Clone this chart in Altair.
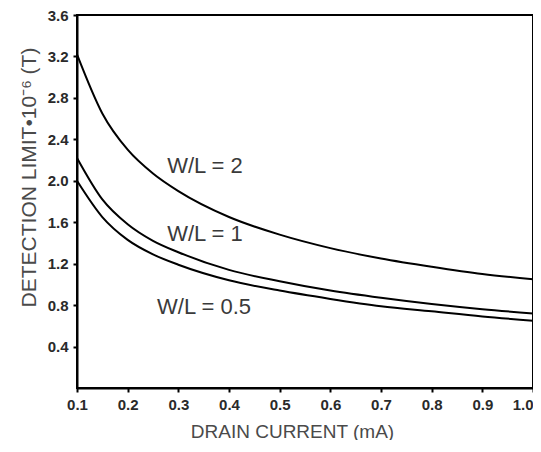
import altair as alt
import pandas as pd

current = [0.1, 0.15, 0.2, 0.25, 0.3, 0.4, 0.5, 0.6, 0.7, 0.8, 0.9, 1.0]
wl2 = [3.22, 2.65, 2.30, 2.07, 1.90, 1.65, 1.48, 1.35, 1.25, 1.17, 1.10, 1.05]
wl1 = [2.22, 1.82, 1.58, 1.42, 1.31, 1.14, 1.03, 0.94, 0.87, 0.81, 0.76, 0.72]
wl05 = [2.00, 1.65, 1.43, 1.29, 1.19, 1.04, 0.94, 0.86, 0.79, 0.74, 0.69, 0.65]

series_names = ["W/L = 2", "W/L = 1", "W/L = 0.5"]
label_x = [0.278, 0.278, 0.258]
label_y = [2.145, 1.49, 0.786]

x_ticks = [0.1, 0.2, 0.3, 0.4, 0.5, 0.6, 0.7, 0.8, 0.9, 1.0]
y_ticks = [0.4, 0.8, 1.2, 1.6, 2.0, 2.4, 2.8, 3.2, 3.6]

rows = []
for name, vals in zip(series_names, [wl2, wl1, wl05]):
    for c, v in zip(current, vals):
        rows.append({"series": name, "current": c, "limit": v})
df = pd.DataFrame(rows)
labels = pd.DataFrame({"text": series_names, "x": label_x, "y": label_y})

FONT = "Liberation Sans"

xscale = alt.Scale(domain=[0.1, 1.0], nice=False, zero=False)
yscale = alt.Scale(domain=[0, 3.6], nice=False, zero=False)

lines = alt.Chart(df).mark_line(color="black", strokeWidth=2, interpolate="monotone").encode(
    x=alt.X("current:Q", scale=xscale,
            axis=alt.Axis(title="DRAIN CURRENT (mA)", values=x_ticks, format=".1f",
                          titlePadding=10, titleX=215, titleAlign="center",
                          titleFontSize=19, labelFlush=False, labelOverlap=False,
                          labelAlign={"condition": {"test": "datum.value >= 0.99", "value": "right"},
                                      "value": "center"})),
    y=alt.Y("limit:Q", scale=yscale,
            axis=alt.Axis(title="DETECTION LIMIT•10⁻⁶ (T)", values=y_ticks, format=".1f",
                          titlePadding=8, titleY=162, titleAlign="center",
                          titleFontSize=21, labelFlush=False, labelOverlap=False)),
    detail="series:N",
)

text = alt.Chart(labels).mark_text(
    align="left", baseline="middle", fontSize=22, font=FONT, color="#3a3a3a"
).encode(
    x=alt.X("x:Q", scale=xscale),
    y=alt.Y("y:Q", scale=yscale),
    text="text:N",
)

chart = (lines + text).properties(
    width=456, height=373,
    autosize=alt.AutoSizeParams(type="none"),
    padding={"left": 69, "top": 7, "right": 0, "bottom": 52},
).configure_view(
    stroke="black", strokeWidth=2
).configure_axis(
    grid=False, domainColor="black", domainWidth=2, tickColor="black", tickSize=4,
    tickWidth=2, labelFont=FONT, labelFontSize=15, labelFontWeight="bold",
    labelColor="#2a2a2a", titleFont=FONT, titleFontWeight="normal",
    titleColor="#4a4a4a", labelPadding=5
)

chart.save("out.html", embed_options={"renderer": "svg", "actions": False})
